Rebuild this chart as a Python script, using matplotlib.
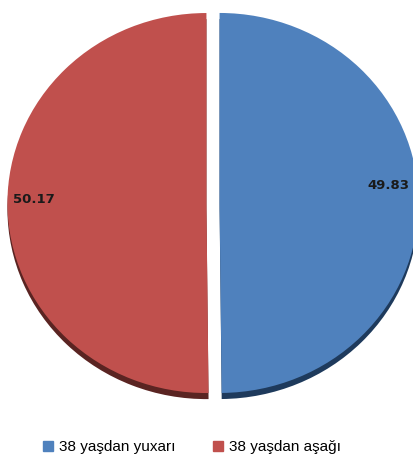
import matplotlib.pyplot as plt
from matplotlib.lines import Line2D

labels = ["38 yaşdan yuxarı", "38 yaşdan aşağı"]
values = [49.83, 50.17]
colors = ["#4F81BD", "#C0504D"]
shadow_colors = ["#1E3A5C", "#5A2422"]

W, H = 414, 463
fig = plt.figure(figsize=(W / 100, H / 100), dpi=100)
ax = fig.add_axes([0, 0, 1, 1])

# pie centre in pixels and the two radii (slightly flattened pie)
cx, cy = 213, 463 - 203
rx, ry = 199, 190

explode = [0.033, 0.033]

# dark copy below the pie gives the bottom shadow rim
ax.pie(values, colors=shadow_colors, startangle=90, counterclock=False,
       explode=explode, center=(0, -0.032), radius=1,
       wedgeprops=dict(linewidth=0))
ax.pie(values, colors=colors, startangle=90, counterclock=False,
       explode=explode, center=(0, 0), radius=1,
       wedgeprops=dict(linewidth=0))

ax.set_aspect("auto")
ax.set_xlim(-cx / rx, (W - cx) / rx)
ax.set_ylim(-cy / ry, (H - cy) / ry)
ax.axis("off")

# value labels near the outer edge of each slice
label_pos = [(0.88, 0.09), (-0.90, 0.016)]
for v, (x, y) in zip(values, label_pos):
    ax.text(x, y, f"{v:.2f}", ha="center", va="center",
            fontsize=9.5, fontweight="bold", color="#1a1a1a",
            family="DejaVu Sans")

handles = [Line2D([], [], marker="s", linestyle="none", markersize=7.5,
                  markerfacecolor=c, markeredgecolor=c) for c in colors]
fig.legend(handles, labels, loc="center", ncol=2, frameon=False,
           bbox_to_anchor=(0.462, 0.034),
           prop={"family": "Liberation Sans", "size": 11},
           handletextpad=0.3, columnspacing=2.3, handlelength=0.9)

fig.savefig("out.png", dpi=100)
